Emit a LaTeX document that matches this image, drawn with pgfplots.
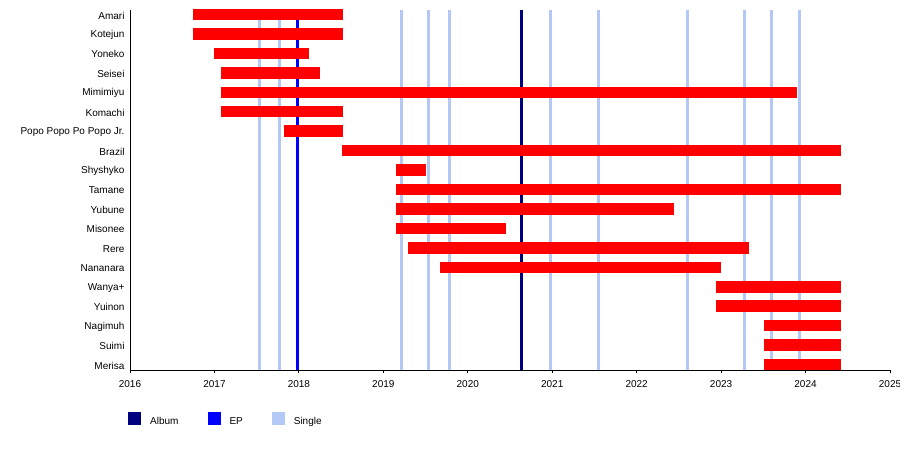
\documentclass[border=0pt]{standalone}
\usepackage{pgfplots}
\pgfplotsset{compat=1.18}
\usepackage{fontspec}
\setmainfont{Liberation Sans}
\definecolor{album}{RGB}{0,0,128}
\definecolor{ep}{RGB}{0,0,255}
\definecolor{single}{RGB}{180,200,245}
\definecolor{barred}{RGB}{255,0,0}
\begin{document}
\fontsize{10bp}{12bp}\selectfont
\begin{tikzpicture}
\useasboundingbox (0,0) rectangle (900bp,464bp);
\begin{axis}[
  at={(130bp,94bp)}, anchor=south west,
  scale only axis, width=760bp, height=360bp,
  xmin=2016, xmax=2025, ymin=-0.23, ymax=18.28, y dir=reverse,
  axis x line*=bottom, axis y line*=left,
  axis line style={-, line width=0.8bp, black},
  xtick={2016,2017,2018,2019,2020,2021,2022,2023,2024,2025},
  /pgf/number format/1000 sep={},
  /pgf/number format/assume math mode=true,
  tick align=outside, major tick length=3bp,
  x tick style={black, line width=0.8bp},
  ytick={0,1,2,3,4,5,6,7,8,9,10,11,12,13,14,15,16,17,18},
  yticklabels={Amari,Kotejun,Yoneko,Seisei,Mimimiyu,Komachi,Popo Popo Po Popo Jr.,Brazil,Shyshyko,Tamane,Yubune,Misonee,Rere,Nananara,Wanya+,Yuinon,Nagimuh,Suimi,Merisa},
  y tick style={draw=none},
  ticklabel style={font=\fontsize{10bp}{12bp}\selectfont},
  yticklabel style={xshift=1bp, yshift=-1bp},
  xticklabel style={yshift=-4bp},
  clip=false,
  legend columns=3,
  legend image code/.code={\path[#1] (0bp,-3.5bp) rectangle (13bp,9.5bp);},
  legend style={at={(axis description cs:0,0)}, anchor=west, xshift=-2bp, yshift=-50bp,
    draw=none, fill=none, inner sep=0pt,
    font=\fontsize{10bp}{12bp}\selectfont,
    /tikz/every odd column/.append style={column sep=7bp},
    /tikz/every even column/.append style={column sep=27bp}},
]
% singles
\addplot[single, line width=3bp, forget plot] coordinates {(2017.528,-0.23) (2017.528,18.28)};
\addplot[single, line width=3bp, forget plot] coordinates {(2017.776,-0.23) (2017.776,18.28)};
\addplot[single, line width=3bp, forget plot] coordinates {(2019.213,-0.23) (2019.213,18.28)};
\addplot[single, line width=3bp, forget plot] coordinates {(2019.533,-0.23) (2019.533,18.28)};
\addplot[single, line width=3bp, forget plot] coordinates {(2019.778,-0.23) (2019.778,18.28)};
\addplot[single, line width=3bp, forget plot] coordinates {(2020.978,-0.23) (2020.978,18.28)};
\addplot[single, line width=3bp, forget plot] coordinates {(2021.546,-0.23) (2021.546,18.28)};
\addplot[single, line width=3bp, forget plot] coordinates {(2022.600,-0.23) (2022.600,18.28)};
\addplot[single, line width=3bp, forget plot] coordinates {(2023.275,-0.23) (2023.275,18.28)};
\addplot[single, line width=3bp, forget plot] coordinates {(2023.595,-0.23) (2023.595,18.28)};
\addplot[single, line width=3bp, forget plot] coordinates {(2023.926,-0.23) (2023.926,18.28)};
% EP
\addplot[ep, line width=3bp, forget plot] coordinates {(2017.978,-0.23) (2017.978,18.28)};
% Album
\addplot[album, line width=3bp, forget plot] coordinates {(2020.642,-0.23) (2020.642,18.28)};
% members
\addplot[barred, line width=11.5bp, forget plot] coordinates {(2016.746,0) (2018.519,0)};
\addplot[barred, line width=11.5bp, forget plot] coordinates {(2016.746,1) (2018.519,1)};
\addplot[barred, line width=11.5bp, forget plot] coordinates {(2016.995,2) (2018.116,2)};
\addplot[barred, line width=11.5bp, forget plot] coordinates {(2017.078,3) (2018.250,3)};
\addplot[barred, line width=11.5bp, forget plot] coordinates {(2017.078,4) (2023.899,4)};
\addplot[barred, line width=11.5bp, forget plot] coordinates {(2017.078,5) (2018.519,5)};
\addplot[barred, line width=11.5bp, forget plot] coordinates {(2017.824,6) (2018.519,6)};
\addplot[barred, line width=11.5bp, forget plot] coordinates {(2018.510,7) (2024.416,7)};
\addplot[barred, line width=11.5bp, forget plot] coordinates {(2019.150,8) (2019.505,8)};
\addplot[barred, line width=11.5bp, forget plot] coordinates {(2019.150,9) (2024.416,9)};
\addplot[barred, line width=11.5bp, forget plot] coordinates {(2019.150,10) (2022.442,10)};
\addplot[barred, line width=11.5bp, forget plot] coordinates {(2019.150,11) (2020.449,11)};
\addplot[barred, line width=11.5bp, forget plot] coordinates {(2019.292,12) (2023.330,12)};
\addplot[barred, line width=11.5bp, forget plot] coordinates {(2019.670,13) (2022.999,13)};
\addplot[barred, line width=11.5bp, forget plot] coordinates {(2022.940,14) (2024.416,14)};
\addplot[barred, line width=11.5bp, forget plot] coordinates {(2022.940,15) (2024.416,15)};
\addplot[barred, line width=11.5bp, forget plot] coordinates {(2023.508,16) (2024.416,16)};
\addplot[barred, line width=11.5bp, forget plot] coordinates {(2023.508,17) (2024.416,17)};
\addplot[barred, line width=11.5bp, forget plot] coordinates {(2023.508,18) (2024.416,18)};
\addlegendimage{fill=album, draw=none}
\addlegendentry{Album}
\addlegendimage{fill=ep, draw=none}
\addlegendentry{EP}
\addlegendimage{fill=single, draw=none}
\addlegendentry{Single}
\end{axis}
\end{tikzpicture}
\end{document}
